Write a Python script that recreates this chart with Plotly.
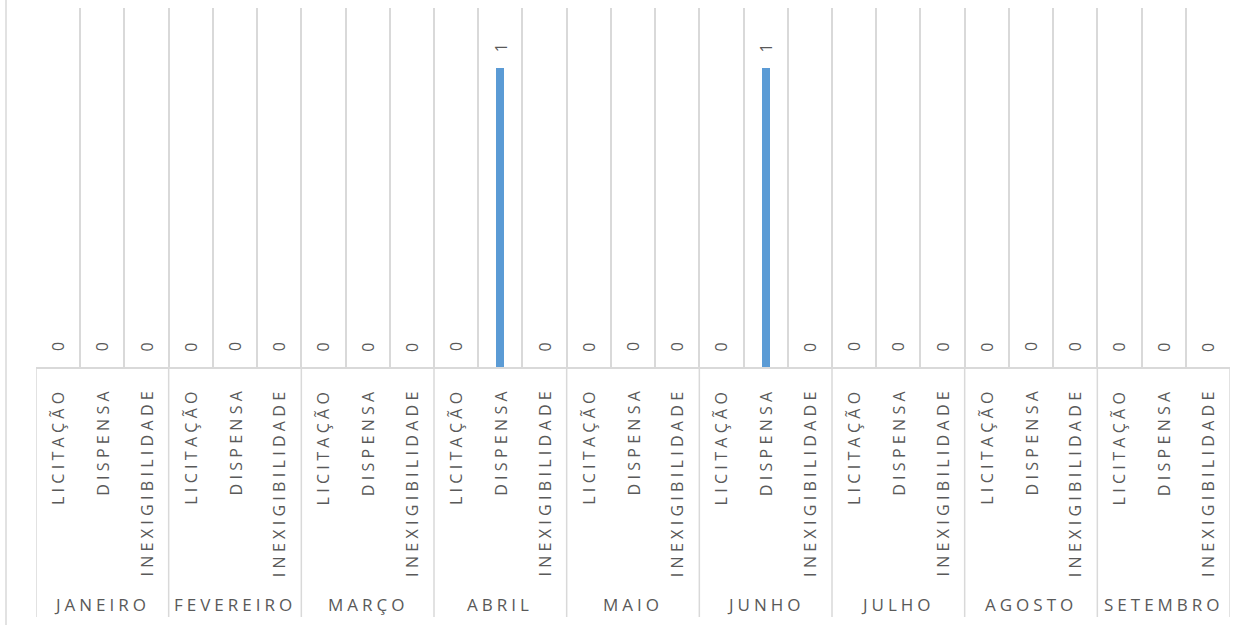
import plotly.graph_objects as go

# Contracting counts per month, by modality
months = ["JANEIRO", "FEVEREIRO", "MARÇO", "ABRIL", "MAIO",
          "JUNHO", "JULHO", "AGOSTO", "SETEMBRO"]
modalities = ["LICITAÇÃO", "DISPENSA", "INEXIGIBILIDADE"]
licitacao = [0, 0, 0, 0, 0, 0, 0, 0, 0]
dispensa = [0, 0, 0, 1, 0, 1, 0, 0, 0]
inexigibilidade = [0, 0, 0, 0, 0, 0, 0, 0, 0]

series = [licitacao, dispensa, inexigibilidade]
n_mod = len(modalities)

# Flatten into one slot per (month, modality) pair
slot_x, slot_y, slot_label, slot_month = [], [], [], []
for mi, month in enumerate(months):
    for ti, mod in enumerate(modalities):
        slot_x.append(mi * n_mod + ti)
        slot_y.append(series[ti][mi])
        slot_label.append(mod)
        slot_month.append(month)

n_slots = len(slot_x)
GRID = "#D9D9D9"
TEXT = "#595959"
FONT = "Open Sans"


def spaced(text, px):
    return f'<span style="letter-spacing:{px}px">{text}</span>'


fig = go.Figure(
    go.Bar(
        x=slot_x,
        y=slot_y,
        width=0.18,
        marker=dict(color="#5B9BD5", line=dict(width=0)),
        hoverinfo="skip",
    )
)

annotations = []
# Value labels above each bar
for x, v in zip(slot_x, slot_y):
    annotations.append(dict(
        x=x, y=v, xref="x", yref="y", text=str(v), showarrow=False,
        textangle=-90, yanchor="middle", xanchor="center", yshift=20,
        font=dict(family=FONT, size=16, color=TEXT),
    ))
# Inner category labels (modality)
for x, lab in zip(slot_x, slot_label):
    annotations.append(dict(
        x=x, y=0, xref="x", yref="paper", text=spaced(lab, 4.3), showarrow=False,
        textangle=-90, yanchor="top", xanchor="center", yshift=-18,
        font=dict(family=FONT, size=16, color=TEXT),
    ))
# Outer category labels (month)
for mi, month in enumerate(months):
    annotations.append(dict(
        x=mi * n_mod + (n_mod - 1) / 2, y=0, xref="x", yref="paper",
        text=spaced(month, 4), showarrow=False,
        yanchor="middle", xanchor="center", yshift=-237,
        font=dict(family=FONT, size=17, color=TEXT),
    ))

plot_h = 628 - 8 - 261
shapes = []
# Month dividers below the axis
for b in range(0, n_slots + 1, n_mod):
    shapes.append(dict(
        type="line", xref="x", yref="paper",
        x0=b - 0.5, x1=b - 0.5, y0=0, y1=-250 / plot_h,
        line=dict(color=GRID, width=1.5),
    ))
# Chart area left border
shapes.append(dict(
    type="line", xref="paper", yref="paper",
    x0=-30 / 1194, x1=-30 / 1194, y0=367 / plot_h, y1=-258 / plot_h,
    line=dict(color=GRID, width=1.5),
))

fig.update_layout(
    width=1258, height=628,
    margin=dict(l=36, r=28, t=8, b=261),
    paper_bgcolor="white", plot_bgcolor="white",
    showlegend=False,
    bargap=0,
    xaxis=dict(
        range=[-0.5, n_slots - 0.5],
        tickmode="array",
        tickvals=[b - 0.5 for b in range(n_slots + 1)],
        showticklabels=False, ticks="",
        showgrid=True, gridcolor=GRID, gridwidth=1.5,
        showline=True, linecolor=GRID, linewidth=1.5,
        zeroline=False,
    ),
    yaxis=dict(
        range=[0, 1.2], visible=False, showgrid=False, zeroline=False,
    ),
    annotations=annotations,
    shapes=shapes,
)

fig.write_html("out.html", config={"displayModeBar": False})
